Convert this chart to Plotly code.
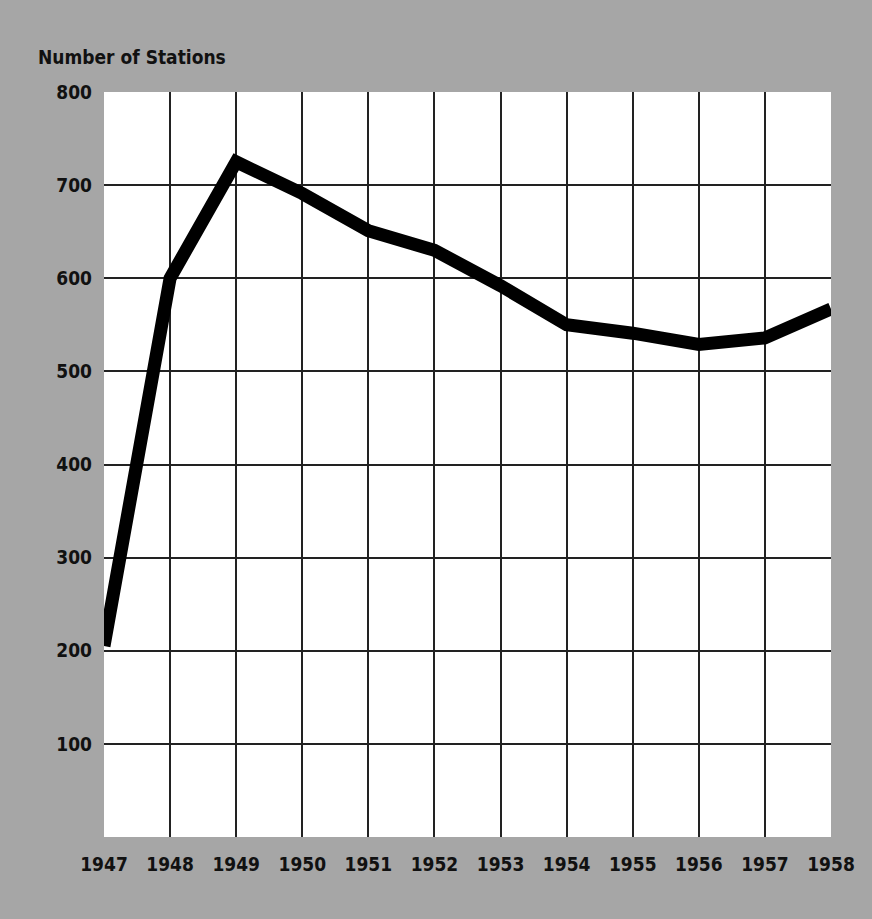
import plotly.graph_objects as go

years = [1947, 1948, 1949, 1950, 1951, 1952, 1953, 1954, 1955, 1956, 1957, 1958]
stations = [205, 600, 725, 691, 651, 630, 592, 550, 541, 529, 536, 567]
y_ticks = [100, 200, 300, 400, 500, 600, 700, 800]
y_title = "Number of Stations"

font_family = "DejaVu Sans Condensed, Liberation Sans Narrow, sans-serif"
tick_font = dict(family=font_family, size=19, color="#111111", weight="bold")

fig = go.Figure()
fig.add_trace(go.Scatter(
    x=years, y=stations, mode="lines",
    line=dict(color="#000000", width=13),
    hoverinfo="skip", showlegend=False,
))

fig.update_layout(
    width=872, height=919,
    margin=dict(l=104, r=41, t=92, b=82),
    paper_bgcolor="#a6a6a6",
    plot_bgcolor="#ffffff",
    font=dict(family=font_family, size=19, color="#111111"),
    annotations=[dict(
        text=y_title, xref="paper", yref="paper", x=-0.0935, y=1.0,
        xanchor="left", yanchor="middle", yshift=35, showarrow=False,
        font=dict(family=font_family, size=19, color="#111111", weight="bold"),
    )],
)
fig.update_xaxes(
    range=[1947, 1958], tickvals=years, ticktext=[str(y) for y in years],
    showgrid=True, gridcolor="#222222", gridwidth=2,
    zeroline=False, showline=False, ticks="", ticklabelstandoff=14,
    tickfont=tick_font,
)
fig.update_yaxes(
    range=[0, 800], tickvals=y_ticks, ticktext=[str(v) for v in y_ticks],
    showgrid=True, gridcolor="#222222", gridwidth=2,
    zeroline=False, showline=False, ticks="", ticklabelstandoff=11,
    tickfont=tick_font,
)

fig.write_html(
    "out.html",
    config={"displayModeBar": False, "staticPlot": True},
    post_script="document.body.style.margin='0';document.body.style.overflow='hidden';",
)
